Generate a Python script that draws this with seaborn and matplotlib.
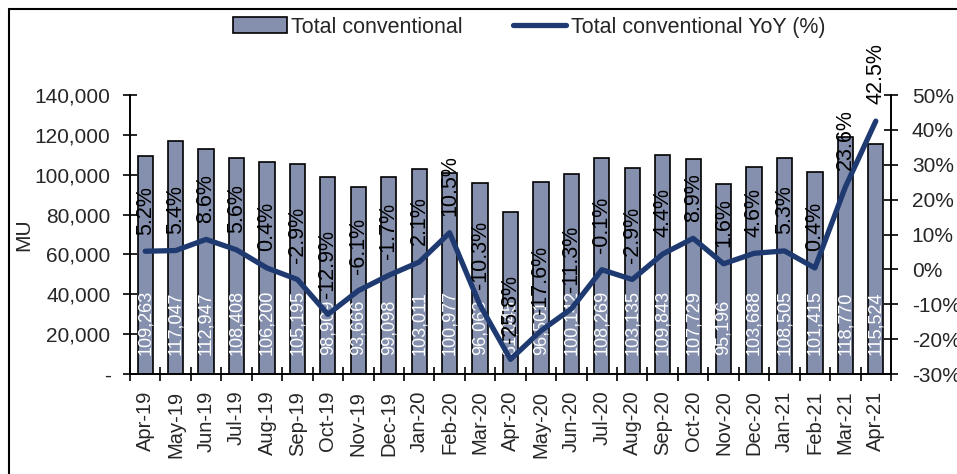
import matplotlib
matplotlib.use("Agg")
import matplotlib.pyplot as plt
from matplotlib.lines import Line2D
from matplotlib.patches import Patch
from matplotlib.ticker import FuncFormatter, FixedLocator
import seaborn as sns
import pandas as pd

months = ["Apr-19", "May-19", "Jun-19", "Jul-19", "Aug-19", "Sep-19", "Oct-19",
          "Nov-19", "Dec-19", "Jan-20", "Feb-20", "Mar-20", "Apr-20", "May-20",
          "Jun-20", "Jul-20", "Aug-20", "Sep-20", "Oct-20", "Nov-20", "Dec-20",
          "Jan-21", "Feb-21", "Mar-21", "Apr-21"]
total_mu = [109263, 117047, 112947, 108408, 106200, 105195, 98909, 93666, 99098,
            103011, 100977, 96063, 81045, 96501, 100142, 108269, 103135, 109843,
            107729, 95196, 103688, 108505, 101415, 118770, 115524]
yoy_pct = [5.2, 5.4, 8.6, 5.6, 0.4, -2.9, -12.9, -6.1, -1.7, 2.1, 10.5, -10.3,
           -25.8, -17.6, -11.3, -0.1, -2.9, 4.4, 8.9, 1.6, 4.6, 5.3, 0.4, 23.6, 42.5]

BAR_COLOR = "#8590AE"
LINE_COLOR = "#1F3A70"

sns.set_theme(style="white")
plt.rcParams["font.family"] = ["Liberation Sans", "DejaVu Sans"]

df = pd.DataFrame({"month": months, "mu": total_mu, "yoy": yoy_pct})
df["pos"] = range(len(df))

fig = plt.figure(figsize=(9.57, 4.74), dpi=100)
ax = fig.add_axes([130 / 957, 100 / 474, 761 / 957, 279 / 474])

sns.barplot(data=df, x="month", y="mu", color=BAR_COLOR, width=0.5,
            edgecolor="black", linewidth=1.2, saturation=1, ax=ax)
ax.set_xlim(-0.5, len(months) - 0.5)
ax.set_ylim(0, 140000)
ax.set_yticks(range(0, 140001, 20000))
ax.yaxis.set_major_formatter(FuncFormatter(lambda v, p: "-" if v == 0 else f"{int(v):,}"))
ax.set_xlabel("")
ax.set_ylabel("MU", fontsize=15)
ax.yaxis.set_label_coords(-0.127, 0.5)
ax.tick_params(axis="y", direction="inout", length=10, width=1.2, labelsize=15, pad=9,
               color="black", left=True)
ax.set_xticks([i for i in range(len(months))])
ax.set_xticklabels(months, rotation=90, fontsize=14.5)
ax.tick_params(axis="x", bottom=False, pad=6)
ax.xaxis.set_minor_locator(FixedLocator([i - 0.5 for i in range(len(months) + 1)]))
ax.tick_params(axis="x", which="minor", direction="inout", length=10, width=1.2,
               bottom=True, color="black")

ax.spines["top"].set_visible(False)
for sp in ["left", "right", "bottom"]:
    ax.spines[sp].set_color("black")
    ax.spines[sp].set_linewidth(1.2)

# bar value labels, inside the base of each bar
for i, v in enumerate(total_mu):
    ax.annotate(f"{v:,}", xy=(i, 0), xytext=(0, 14), textcoords="offset points",
                rotation=90, ha="center", va="bottom", color="white", fontsize=13)

ax2 = ax.twinx()
sns.lineplot(data=df, x="pos", y="yoy", color=LINE_COLOR, linewidth=3.8, ax=ax2,
             legend=False)
ax2.set_ylim(-30, 50)
ax2.set_yticks(range(-30, 51, 10))
ax2.yaxis.set_major_formatter(FuncFormatter(lambda v, p: f"{int(v)}%"))
ax2.tick_params(axis="y", direction="inout", length=10, width=1.2, labelsize=15, pad=10,
                color="black", right=True)
ax2.set_ylabel("")
ax2.set_xlabel("")
ax2.spines["top"].set_visible(False)
for sp in ["left", "right", "bottom"]:
    ax2.spines[sp].set_color("black")
    ax2.spines[sp].set_linewidth(1.2)
ax2.set_xlim(-0.5, len(months) - 0.5)

for i, v in enumerate(yoy_pct):
    ax2.annotate(f"{v:.1f}%", xy=(i, v), xytext=(0, 12), textcoords="offset points",
                 rotation=90, ha="center", va="bottom", color="black", fontsize=15.5,
                 annotation_clip=False)

handles = [Patch(facecolor=BAR_COLOR, edgecolor="black", linewidth=1.2),
           Line2D([0], [0], color=LINE_COLOR, linewidth=3.8)]
fig.legend(handles, ["Total conventional", "Total conventional YoY (%)"],
           loc="center", bbox_to_anchor=(0.553, 0.943), ncol=2, frameon=False,
           fontsize=15.5, handlelength=2.5, handletextpad=0.2, columnspacing=2.3,
           handleheight=0.7)

# outer frame edges
fig.add_artist(Line2D([9 / 957, 1], [1 - 9 / 474, 1 - 9 / 474], color="black", linewidth=1.5,
                      transform=fig.transFigure))
fig.add_artist(Line2D([9 / 957, 9 / 957], [0, 1 - 9 / 474], color="black", linewidth=1.5,
                      transform=fig.transFigure))

fig.savefig("out.png", dpi=100)
